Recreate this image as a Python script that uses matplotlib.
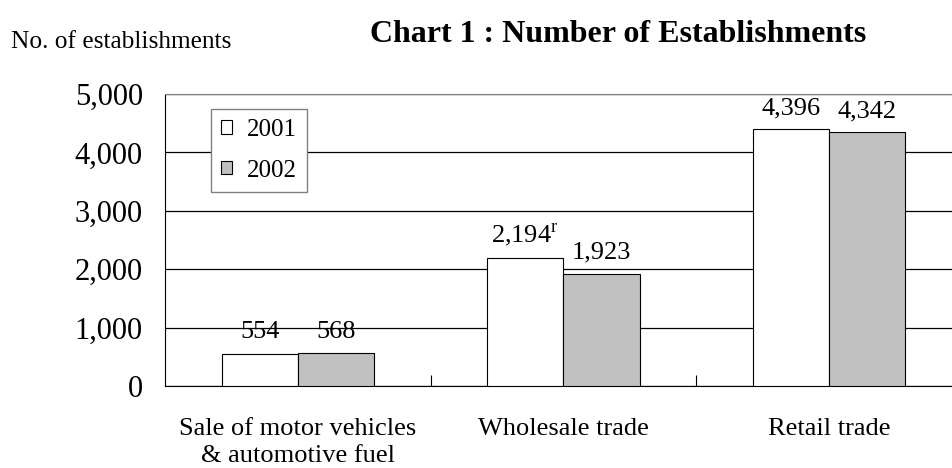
import numpy as np
import matplotlib
matplotlib.use("Agg")
import matplotlib.pyplot as plt

plt.rcParams['font.family'] = ['Liberation Serif', 'DejaVu Serif']
plt.rcParams['mathtext.fontset'] = 'custom'
plt.rcParams['mathtext.rm'] = 'Liberation Serif'

# data
categories = ['Sale of motor vehicles\n& automotive fuel', 'Wholesale trade', 'Retail trade']
years = ['2001', '2002']
values_2001 = [554, 2194, 4396]
values_2002 = [568, 1923, 4342]
labels_2001 = ['554', '2,194$^{\\mathregular{r}}$', '4,396']
labels_2002 = ['568', '1,923', '4,342']
yticks = [0, 1000, 2000, 3000, 4000, 5000]

fig = plt.figure(figsize=(9.52, 4.68), dpi=100)
ax = fig.add_axes([0.1733, 0.1752, 0.837, 0.624])

x = np.arange(len(categories))
w = 0.287
b1 = ax.bar(x - w / 2, values_2001, w, color='white', edgecolor='black', linewidth=0.8, label=years[0], zorder=3)
b2 = ax.bar(x + w / 2, values_2002, w, color='#c0c0c0', edgecolor='black', linewidth=0.8, label=years[1], zorder=3)

for bars, labels in [(b1, labels_2001), (b2, labels_2002)]:
    for rect, lab in zip(bars, labels):
        ax.annotate(lab, (rect.get_x() + rect.get_width() / 2, rect.get_height()),
                    xytext=(0, 11), textcoords='offset points', ha='center', va='baseline', fontsize=19)

ax.set_xlim(-0.5, len(categories) - 0.5)
ax.set_ylim(0, 5000)
ax.set_yticks(yticks)
ax.set_yticklabels([f'{v:,}' for v in yticks], fontsize=22)
ax.yaxis.grid(True, color='black', linewidth=0.9, zorder=0)
ax.set_axisbelow(True)
ax.tick_params(axis='y', length=0, pad=16)

# separator ticks between categories, category names centred below
ax.set_xticks(x[:-1] + 0.5)
ax.set_xticklabels([])
ax.tick_params(axis='x', which='major', direction='in', length=8, width=0.8)
ax.set_xticks(x, minor=True)
ax.set_xticklabels(categories, minor=True, fontsize=19, linespacing=1.3)
ax.tick_params(axis='x', which='minor', length=0, pad=23)

ax.spines['top'].set_color('#808080')
ax.spines['right'].set_color('#808080')
for s in ['left', 'bottom']:
    ax.spines[s].set_color('black')

leg = ax.legend(loc='upper left', bbox_to_anchor=(0.0577, 0.949), borderaxespad=0,
                fontsize=18, fancybox=False, edgecolor='#808080', framealpha=1,
                handlelength=0.45, handleheight=0.45, handletextpad=0.6, labelspacing=0.75,
                borderpad=0.4)
leg.get_frame().set_linewidth(1)

fig.text(0.012, 0.897, 'No. of establishments', fontsize=18.3, va='baseline', ha='left')
fig.text(0.649, 0.910, 'Chart 1 : Number of Establishments', fontsize=23, fontweight='bold',
         va='baseline', ha='center')

fig.savefig('out.png', dpi=100)
